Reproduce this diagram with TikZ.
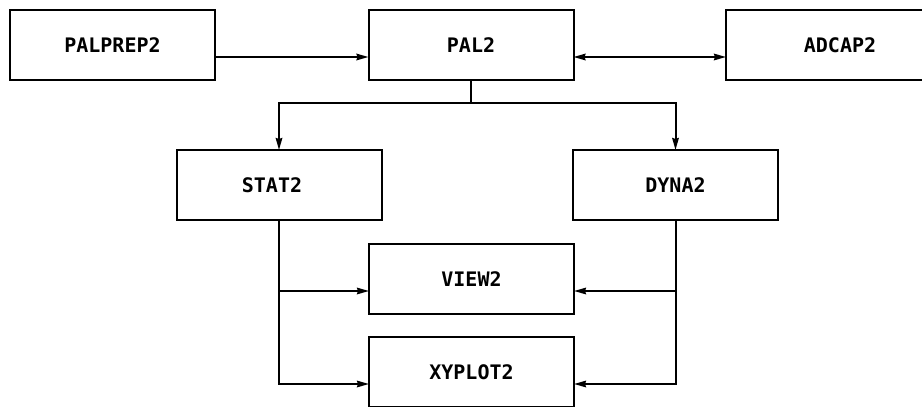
\documentclass[tikz,border=0pt]{standalone}
\usepackage{fontspec}
\setmonofont{DejaVu Sans Mono}
\usetikzlibrary{arrows.meta,calc}
\begin{document}
\begin{tikzpicture}[x=1pt,y=-1pt, line width=2pt,
  prog/.style={draw, minimum width=205pt, minimum height=70pt,
    inner sep=0pt, outer sep=0pt, font=\ttfamily\bfseries\fontsize{20}{20}\selectfont},
  tip/.tip={Stealth[length=12pt,width=6.5pt,inset=1pt]},
  flow/.style={-tip},
  twoway/.style={tip-tip}]
  \useasboundingbox (0,0) rectangle (922,407);
  \clip (0,0) rectangle (922,407);

  % program modules
  \node[prog] (prep) at (112.5,45) {PALPREP2};
  \node[prog] (pal)  at (471,45)   {PAL2};
  \node[prog, minimum width=228pt] (adcap) at (840,45) {ADCAP2};
  \node[prog] (stat) at (279,185)  {\hspace{-14pt}STAT2};
  \node[prog] (dyna) at (675.5,185) {DYNA2\hspace{-11pt}};
  \node[prog] (view) at (471.5,279) {VIEW2};
  \node[prog] (xy)   at (471.5,372) {XYPLOT2};

  % top row
  \draw[flow]   ($(prep.east)+(0,12)$) -- ($(pal.west)+(0,12)$);
  \draw[twoway] ($(pal.east)+(0,12)$) -- ($(adcap.west)+(0,12)$);

  % PAL2 feeds both analysis modules
  \coordinate (split) at ($(pal.south)+(0,23)$);
  \draw (pal.south) -- (split);
  \draw[flow] (split) -| (stat.north);
  \draw[flow] (split) -| (dyna.north);

  % results go to the display modules
  \coordinate (vin) at ($(view.west)+(0,12)$);
  \coordinate (xin) at ($(xy.west)+(0,12)$);
  \coordinate (vout) at ($(view.east)+(0,12)$);
  \coordinate (xout) at ($(xy.east)+(0,12)$);
  \draw[flow] (stat.south) |- (xin);
  \draw[flow] (stat.south |- vin) -- (vin);
  \draw[flow] (dyna.south) |- (xout);
  \draw[flow] (dyna.south |- vout) -- (vout);
\end{tikzpicture}
\end{document}
